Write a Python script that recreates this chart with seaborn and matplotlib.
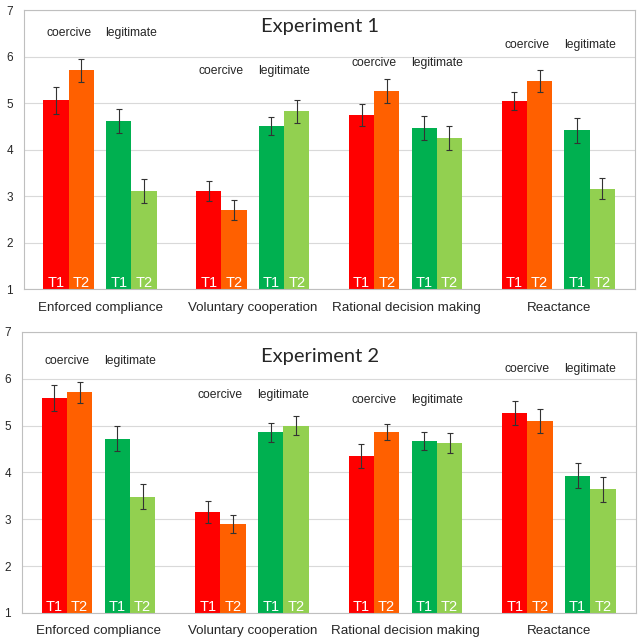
import numpy as np
import pandas as pd
import matplotlib.pyplot as plt
import seaborn as sns

# Data (means and +/- error)
categories = ['Enforced compliance', 'Voluntary cooperation', 'Rational decision making', 'Reactance']
conditions = ['coercive T1', 'coercive T2', 'legitimate T1', 'legitimate T2']
bar_labels = ['T1', 'T2', 'T1', 'T2']

exp1_coercive_t1 = [5.06, 3.11, 4.74, 5.04]
exp1_coercive_t2 = [5.70, 2.70, 5.25, 5.47]
exp1_legitimate_t1 = [4.61, 4.50, 4.46, 4.41]
exp1_legitimate_t2 = [3.11, 4.82, 4.25, 3.16]
exp1_err_coercive_t1 = [0.29, 0.22, 0.24, 0.19]
exp1_err_coercive_t2 = [0.24, 0.21, 0.26, 0.23]
exp1_err_legitimate_t1 = [0.26, 0.19, 0.26, 0.26]
exp1_err_legitimate_t2 = [0.26, 0.24, 0.26, 0.23]

exp2_coercive_t1 = [5.59, 3.16, 4.35, 5.27]
exp2_coercive_t2 = [5.71, 2.90, 4.86, 5.10]
exp2_legitimate_t1 = [4.72, 4.86, 4.68, 3.93]
exp2_legitimate_t2 = [3.48, 5.00, 4.63, 3.64]
exp2_err_coercive_t1 = [0.27, 0.23, 0.25, 0.26]
exp2_err_coercive_t2 = [0.23, 0.20, 0.17, 0.25]
exp2_err_legitimate_t1 = [0.27, 0.20, 0.19, 0.27]
exp2_err_legitimate_t2 = [0.27, 0.21, 0.22, 0.26]

colors = ['#ff0000', '#ff6000', '#00b050', '#92d050']
offsets = [-0.29, -0.125, 0.12, 0.285]

sns.set_style('white')
plt.rcParams['font.family'] = ['Liberation Sans', 'DejaVu Sans']

fig = plt.figure(figsize=(6.44, 6.42), dpi=100)
ax1 = fig.add_axes([0.0373, 0.5498, 0.9488, 0.4346])
ax2 = fig.add_axes([0.0342, 0.0452, 0.9534, 0.4377])


def draw_panel(ax, series, errs, title, label_y, title_y):
    rows = []
    for j, cond in enumerate(conditions):
        for i in range(len(categories)):
            rows.append({'pos': i + offsets[j], 'value': series[j][i],
                         'err': errs[j][i], 'cond': cond, 'tag': bar_labels[j]})
    df = pd.DataFrame(rows)

    ax.set_axisbelow(True)
    ax.grid(axis='y', color='#d9d9d9', linewidth=0.8)
    sns.barplot(data=df, x='pos', y='value', hue='cond', hue_order=conditions,
                palette=colors, native_scale=True, dodge=False, width=1.0,
                errorbar=None, legend=False, saturation=1, linewidth=0, ax=ax)
    ax.errorbar(df['pos'], df['value'], yerr=df['err'], fmt='none',
                ecolor='#333333', elinewidth=0.8, capsize=2.5, capthick=0.8)

    for _, r in df.iterrows():
        ax.text(r['pos'], 1.04, r['tag'], color='white', ha='center',
                va='baseline', fontsize=10.5)

    for i in range(len(categories)):
        ax.text(i + (offsets[0] + offsets[1]) / 2, label_y[i], 'coercive',
                ha='center', va='center', fontsize=8.7)
        ax.text(i + (offsets[2] + offsets[3]) / 2, label_y[i], 'legitimate',
                ha='center', va='center', fontsize=8.7)

    ax.text(1.44, title_y, title, ha='center', va='center', fontsize=14.5,
            family=['Lato', 'DejaVu Sans'])

    ax.set_xlim(-0.5, 3.5)
    ax.set_ylim(1, 7)
    ax.set_yticks(range(1, 8))
    ax.tick_params(axis='y', length=0, pad=8, labelsize=8.5)
    ax.set_xticks([0.5, 1.5, 2.5])
    ax.set_xticklabels([])
    ax.tick_params(axis='x', which='major', length=4, color='#bfbfbf', width=0.8)
    ax.set_xticks(range(len(categories)), minor=True)
    ax.set_xticklabels(categories, minor=True, fontsize=9.6)
    ax.tick_params(axis='x', which='minor', length=0, pad=9)
    ax.set_xlabel('')
    ax.set_ylabel('')
    for s in ax.spines.values():
        s.set_visible(True)
        s.set_color('#bfbfbf')
        s.set_linewidth(0.8)


draw_panel(ax1,
           [exp1_coercive_t1, exp1_coercive_t2, exp1_legitimate_t1, exp1_legitimate_t2],
           [exp1_err_coercive_t1, exp1_err_coercive_t2, exp1_err_legitimate_t1, exp1_err_legitimate_t2],
           'Experiment 1', [6.51, 5.69, 5.86, 6.25], 6.65)
draw_panel(ax2,
           [exp2_coercive_t1, exp2_coercive_t2, exp2_legitimate_t1, exp2_legitimate_t2],
           [exp2_err_coercive_t1, exp2_err_coercive_t2, exp2_err_legitimate_t1, exp2_err_legitimate_t2],
           'Experiment 2', [6.38, 5.66, 5.54, 6.21], 6.48)

fig.savefig('out.png', dpi=100, facecolor='white')
